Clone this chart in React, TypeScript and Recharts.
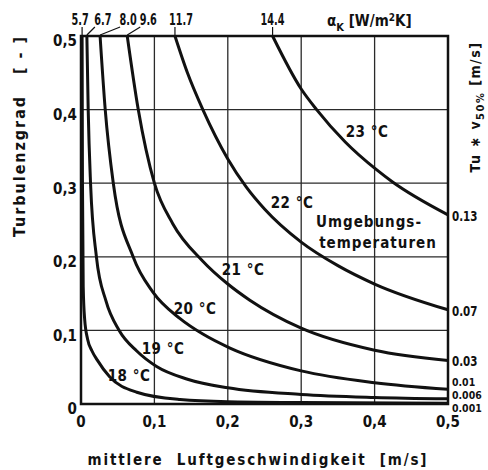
import React from 'react';
import { LineChart, Line, XAxis, YAxis, CartesianGrid, ReferenceArea, ReferenceDot, LabelList } from 'recharts';

// axis ticks (m/s and Turbulenzgrad)
const gridTicks = [0, 0.1, 0.2, 0.3, 0.4, 0.5];

// curves: v = mittlere Luftgeschwindigkeit, tu = Turbulenzgrad
const v18 = [0.0015, 0.002, 0.003, 0.005, 0.009, 0.015, 0.022, 0.039, 0.076, 0.135, 0.2, 0.3, 0.5];
const tu18 = [0.5, 0.3, 0.16, 0.115, 0.088, 0.072, 0.06, 0.037, 0.016, 0.006, 0.003, 0.002, 0.001];

const v19 = [0.008, 0.0098, 0.013, 0.021, 0.034, 0.052, 0.076, 0.103, 0.144, 0.2, 0.3, 0.4, 0.5];
const tu19 = [0.5, 0.4, 0.3, 0.2, 0.14, 0.1, 0.072, 0.051, 0.034, 0.022, 0.013, 0.009, 0.007];

const v20 = [0.026, 0.033, 0.044, 0.071, 0.098, 0.135, 0.166, 0.203, 0.3, 0.4, 0.5];
const tu20 = [0.5, 0.4, 0.3, 0.2, 0.152, 0.116, 0.095, 0.076, 0.045, 0.029, 0.02];

const v21 = [0.063, 0.078, 0.1, 0.125, 0.165, 0.2, 0.23, 0.3, 0.4, 0.5];
const tu21 = [0.5, 0.4, 0.3, 0.245, 0.195, 0.163, 0.141, 0.103, 0.073, 0.059];

const v22 = [0.128, 0.145, 0.166, 0.2, 0.225, 0.25, 0.3, 0.35, 0.4, 0.5];
const tu22 = [0.5, 0.45, 0.4, 0.333, 0.295, 0.265, 0.22, 0.188, 0.163, 0.128];

const v23 = [0.261, 0.3, 0.321, 0.36, 0.403, 0.424, 0.5];
const tu23 = [0.5, 0.428, 0.4, 0.356, 0.318, 0.302, 0.257];

// top scale alpha_K [W/m2K] and right scale Tu * v50% [m/s], one per curve (18..23 °C)
const alphaK = ['5.7', '6.7', '8.0', '9.6', '11.7', '14.4'];
const tuTimesV = ['0.001', '0.006', '0.01', '0.03', '0.07', '0.13'];

const FONT = "'DejaVu Sans Condensed', 'DejaVu Sans', sans-serif";
const INK = '#111';

// label nudges so crowded labels don't collide (px)
const alphaDx = [-2, 16, 28, 21, 6, 0];
const endDy = [4, -5, -8, 0, 1, 1];

const toPoints = (v: number[], tu: number[], end: string) =>
  v.map((x, i) => ({ v: x, tu: tu[i], end: i === v.length - 1 ? end : undefined }));

const curves = [
  toPoints(v18, tu18, tuTimesV[0]),
  toPoints(v19, tu19, tuTimesV[1]),
  toPoints(v20, tu20, tuTimesV[2]),
  toPoints(v21, tu21, tuTimesV[3]),
  toPoints(v22, tu22, tuTimesV[4]),
  toPoints(v23, tu23, tuTimesV[5]),
];

const fmtComma = (n: number) => (n === 0 ? '0' : n.toFixed(1).replace('.', ','));

// alpha_K value sitting above the top end of a curve, with a little leader line
const alphaMark = (i: number) => (props: any) => {
  const { cx, cy } = props;
  const dx = alphaDx[i];
  const lead = Math.max(0, dx - 8);
  return (
    <g>
      <line x1={cx} y1={cy - 1} x2={cx + lead} y2={cy - 9} stroke={INK} strokeWidth={1.2} />
      <text
        transform={`translate(${cx + dx},${cy - 11}) scale(0.72,1)`}
        textAnchor="middle"
        fontFamily={FONT}
        fontWeight={700}
        fontSize={15}
        fill={INK}
      >
        {alphaK[i]}
      </text>
    </g>
  );
};

const endLabel = (i: number) => (props: any) => {
  const { value } = props;
  if (!value) return null;
  const x = props.x ?? props.viewBox?.x;
  const y = props.y ?? props.viewBox?.y;
  const small = i < 3;
  return (
    <text
      transform={`translate(${x + 4},${y + endDy[i] + 5}) scale(${small ? 0.95 : 0.82},1)`}
      fontFamily={FONT}
      fontWeight={700}
      fontSize={small ? 11 : 14}
      fill={INK}
    >
      {value}
    </text>
  );
};

const tempLabels = [
  { t: '18 °C', x: 129, y: 381 },
  { t: '19 °C', x: 163, y: 354 },
  { t: '20 °C', x: 195, y: 314 },
  { t: '21 °C', x: 243, y: 275 },
  { t: '22 °C', x: 292, y: 208 },
  { t: '23 °C', x: 367, y: 137 },
];

export default function App() {
  const txt = { fontFamily: FONT, fontWeight: 700, fill: INK } as const;
  return (
    <div style={{ position: 'absolute', left: 0, top: 0, width: 488, height: 470, background: '#fff' }}>
      <LineChart width={488} height={470} margin={{ top: 36, right: 40, bottom: 0, left: 0 }}>
        <CartesianGrid stroke="#2a2a2a" strokeWidth={1.3} />
        <XAxis
          dataKey="v"
          type="number"
          domain={[0, 0.5]}
          ticks={gridTicks}
          tickFormatter={fmtComma}
          axisLine={false}
          tickLine={false}
          tickSize={0}
          tickMargin={12}
          height={66}
          tick={{ fontFamily: FONT, fontWeight: 700, fontSize: 15, fill: INK }}
        />
        <YAxis
          type="number"
          domain={[0, 0.5]}
          ticks={gridTicks}
          tickFormatter={fmtComma}
          axisLine={false}
          tickLine={false}
          tickSize={0}
          tickMargin={4}
          width={81}
          tick={{ fontFamily: FONT, fontWeight: 700, fontSize: 15, fill: INK, dy: 5 }}
        />
        <ReferenceArea x1={0} x2={0.5} y1={0} y2={0.5} fill="none" stroke={INK} strokeWidth={2.5} />
        {curves.map((c, i) => (
          <Line
            key={i}
            data={c}
            dataKey="tu"
            type="monotone"
            stroke={INK}
            strokeWidth={3}
            dot={false}
            isAnimationActive={false}
          >
            <LabelList dataKey="end" content={endLabel(i)} />
          </Line>
        ))}
        {curves.map((c, i) => (
          <ReferenceDot
            key={`a${i}`}
            x={c[0].v}
            y={c[0].tu}
            r={0}
            ifOverflow="visible"
            shape={alphaMark(i)}
          />
        ))}
      </LineChart>
      <svg width={488} height={470} style={{ position: 'absolute', left: 0, top: 0, pointerEvents: 'none' }}>
        {tempLabels.map(l => (
          <text key={l.t} x={l.x} y={l.y} textAnchor="middle" fontSize={15} letterSpacing={0.5} {...txt}>
            {l.t}
          </text>
        ))}
        <text x={369} y={227} textAnchor="middle" fontSize={15} letterSpacing={1} {...txt}>Umgebungs-</text>
        <text x={378} y={248} textAnchor="middle" fontSize={15} letterSpacing={1} {...txt}>temperaturen</text>
        <text x={327} y={26} fontSize={15} {...txt}>
          α<tspan fontSize={11} dy={5}>K</tspan>
          <tspan dy={-5}> [W/m</tspan>
          <tspan fontSize={10} dy={-5}>2</tspan>
          <tspan dy={5}>K]</tspan>
        </text>
        <text
          x={257}
          y={465}
          textAnchor="middle"
          fontSize={15}
          textLength={339}
          lengthAdjust="spacing"
          style={{ whiteSpace: 'pre' }}
          {...txt}
        >
          mittlere  Luftgeschwindigkeit  [m/s]
        </text>
        <text
          transform="translate(25,137) rotate(-90)"
          textAnchor="middle"
          fontSize={16}
          textLength={200}
          lengthAdjust="spacing"
          style={{ whiteSpace: 'pre' }}
          {...txt}
        >
          Turbulenzgrad   [ - ]
        </text>
        <text transform="translate(480,107) rotate(-90)" textAnchor="middle" fontSize={14} letterSpacing={1.5} {...txt}>
          Tu ∗ v<tspan fontSize={11} dy={4}>50%</tspan>
          <tspan dy={-4}> [m/s]</tspan>
        </text>
      </svg>
    </div>
  );
}
